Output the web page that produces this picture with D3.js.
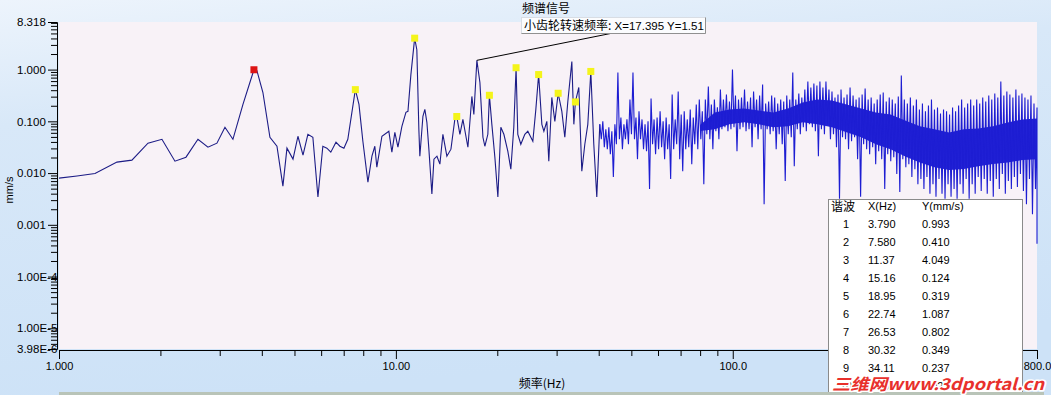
<!DOCTYPE html>
<html>
<head>
<meta charset="utf-8">
<script src="https://cdn.jsdelivr.net/npm/d3@7"></script>
<style>
  body { margin: 0; overflow: hidden; background: #d6e7f8; }
  svg text { font-family: "Liberation Sans", Arial, sans-serif; }
  .cn { font-family: "Noto Sans CJK SC", sans-serif; }
</style>
</head>
<body>
<svg id="chart"></svg>
<script>
// ---- data ----
// low band: individual spectral lines, [frequency Hz, amplitude mm/s]
const lowBand = [
  [1.000,0.0080],[1.131,0.0088],[1.279,0.0098],[1.486,0.0163],[1.646,0.0178],[1.837,0.0378],
  [2.021,0.045],[2.209,0.017],[2.382,0.0203],[2.585,0.045],[2.768,0.0316],[2.943,0.0378],
  [3.109,0.0767],[3.283,0.045],[3.516,0.212],[3.790,0.993],[3.868,0.957],[4.03,0.361],
  [4.228,0.0492],[4.436,0.033],[4.62,0.0056],[4.75,0.0303],[4.95,0.0186],[5.12,0.0515],
  [5.30,0.0222],[5.48,0.0562],[5.67,0.0492],[5.87,0.00345],[6.07,0.033],[6.24,0.0303],
  [6.41,0.0254],[6.64,0.0395],[6.82,0.033],[7.01,0.0303],[7.20,0.045],[7.58,0.410],
  [7.77,0.212],[7.98,0.0412],[8.26,0.0067],[8.49,0.0212],[8.66,0.033],[8.78,0.013],
  [9.09,0.0515],[9.53,0.0643],[9.73,0.0254],[9.93,0.0614],[10.14,0.0316],[10.42,0.0801],
  [10.71,0.149],[10.86,0.156],[11.08,0.80],[11.37,4.049],[11.54,2.42],[11.70,0.0702],
  [11.78,0.0212],[12.03,0.125],[12.19,0.170],[12.36,0.0957],[12.53,0.029],[12.79,0.00395],
  [12.97,0.0186],[13.24,0.0212],[13.51,0.0149],[13.79,0.0562],[14.17,0.0212],[14.57,0.029],
  [14.96,0.109],[15.16,0.124],[15.49,0.0562],[15.81,0.109],[16.36,0.0316],[16.81,0.303],
  [17.04,0.136],[17.395,1.51],[17.76,0.562],[18.13,0.0492],[18.37,0.033],[18.75,0.0562],
  [18.95,0.319],[19.27,0.0875],[19.67,0.0203],[20.08,0.00345],[20.49,0.0767],[20.92,0.0562],
  [21.49,0.0265],[21.94,0.0119],[22.39,0.0767],[22.74,1.087],[23.01,0.0562],[23.49,0.0361],
  [24.14,0.0562],[24.64,0.0643],[25.50,0.0412],[26.03,0.170],[26.53,0.802],[27.12,0.0875],
  [27.50,0.0643],[28.06,0.100],[28.44,0.017],[29.03,0.290],[29.64,0.100],[30.32,0.349],
  [31.09,0.156],[31.73,0.0492],[32.39,0.242],[33.29,1.43],[33.75,0.0875],[34.11,0.237],
  [34.91,0.451],[35.64,0.0109],[36.38,0.0361],[37.13,0.0875],[37.90,0.921],[38.68,0.0361],
  [39.48,0.00345]
]

// high band (40.3 - 800 Hz): per-bin upper and lower excursions, bins evenly spaced on the log axis
const denseFrom = 40.3
const denseTo = 800
const denseTop = [
  0.088,0.100,0.070,0.077,0.064,0.088,0.88,0.119,0.088,0.109,
  0.265,0.88,0.119,0.156,0.109,0.088,0.100,0.277,0.109,0.119,
  0.156,0.100,0.119,0.088,0.33,0.109,0.377,0.136,0.156,0.109,
  0.170,0.119,0.212,0.265,0.156,0.265,0.471,0.212,0.265,0.186,
  0.412,0.265,0.33,0.242,1.0,0.316,0.265,0.289,0.412,0.242,
  0.289,0.377,0.265,0.316,0.515,0.222,0.242,0.316,0.289,0.222,
  0.265,0.242,0.316,0.265,0.88,0.265,0.345,0.289,0.412,0.588,
  0.451,0.538,0.492,0.588,0.451,0.588,0.412,0.377,0.289,0.33,
  0.412,0.289,0.33,0.451,0.316,0.265,0.289,0.33,0.431,0.265,
  0.289,0.222,0.265,0.33,0.361,0.242,0.289,0.265,0.222,0.302,
  0.767,0.265,0.222,0.289,0.203,0.265,0.170,0.222,0.156,0.203,
  0.265,0.170,0.186,0.142,0.170,0.156,0.136,0.186,0.156,0.203,
  0.265,0.186,0.222,0.265,0.203,0.265,0.222,0.289,0.242,0.316,
  0.265,0.345,0.289,0.588,0.316,0.377,0.33,0.289,0.412,0.316,
  0.345,0.289,0.265,0.316,0.222,0.186
]
const denseBot = [
  0.045,0.0316,0.0289,0.0232,0.0084,0.0361,0.045,0.0289,0.045,0.0361,
  0.0562,0.045,0.0186,0.045,0.0289,0.0265,0.0049,0.0361,0.0232,0.0289,
  0.0316,0.0186,0.0289,0.0077,0.0289,0.0361,0.0186,0.0109,0.0289,0.0316,
  0.0149,0.0361,0.0289,0.045,0.0061,0.0562,0.045,0.0289,0.0642,0.045,
  0.0702,0.0767,0.0642,0.0702,0.0767,0.0265,0.0702,0.0767,0.0642,0.0702,
  0.0316,0.0767,0.045,0.0702,0.0025,0.0702,0.0562,0.0642,0.0289,0.0562,
  0.0361,0.0070,0.0562,0.0492,0.0136,0.0702,0.0562,0.0767,0.0642,0.0876,
  0.0767,0.0642,0.0212,0.0702,0.0562,0.0876,0.045,0.0562,0.0316,0.0032,
  0.0492,0.045,0.0289,0.0412,0.0492,0.0186,0.0035,0.0361,0.0289,0.0232,
  0.0316,0.0149,0.0265,0.0186,0.0049,0.0232,0.0170,0.0203,0.0096,0.0043,
  0.0186,0.0130,0.0149,0.0084,0.0119,0.0061,0.0077,0.0049,0.0084,0.0040,
  0.0061,0.0035,0.0077,0.0040,0.0032,0.0061,0.0035,0.0049,0.0032,0.0061,
  0.0040,0.0077,0.0032,0.0061,0.0040,0.0084,0.0045,0.0077,0.0040,0.0070,
  0.0035,0.0077,0.0049,0.0096,0.0040,0.0070,0.0049,0.0084,0.0054,0.0096,
  0.0045,0.0025,0.0077,0.0016,0.0049,0.00043
]

// solid core of the high band (80 - 800 Hz), upper and lower edge
const coreFrom = 80
const coreTo = 800
const coreTop = [0.085,0.149,0.170,0.178,0.162,0.149,0.178,0.231,0.264,0.253,0.212,0.178,
                 0.149,0.136,0.104,0.080,0.070,0.061,0.070,0.073,0.080,0.095,0.109,0.114]
const coreBot = [0.065,0.070,0.088,0.096,0.088,0.077,0.080,0.096,0.088,0.077,0.0615,0.049,
                 0.036,0.029,0.021,0.016,0.013,0.0115,0.012,0.0136,0.0149,0.016,0.0178,0.0186]

// harmonics table
const harmNo = [1, 2, 3, 4, 5, 6, 7, 8, 9, 10]
const harmFreq = [3.790, 7.580, 11.37, 15.16, 18.95, 22.74, 26.53, 30.32, 34.11, 37.90]
const harmAmp = [0.993, 0.410, 4.049, 0.124, 0.319, 1.087, 0.802, 0.349, 0.237, 0.921]

// marked peak
const peakName = "小齿轮转速频率"
const peakFreq = 17.395
const peakAmp = 1.51

// axes
const xTickVals = [1, 10, 100, 800]
const xTickLabels = ["1.000", "10.00", "100.0", "800.0"]
const yTickVals = [8.318, 1, 0.1, 0.01, 0.001, 1e-4, 1e-5, 3.98e-6]
const yTickLabels = ["8.318", "1.000", "0.100", "0.010", "0.001", "1.00E-4", "1.00E-5", "3.98E-6"]

const chartTitle = "频谱信号"
const xTitle = "频率(Hz)"
const yTitle = "mm/s"

// ---- layout ----
const W = 1051
const H = 395
const padL = 59, padR = 1037, padT = 22, padB = 349

let svg = d3.select('#chart').attr('width', W).attr('height', H)

let xScale = d3.scaleLog().domain([1, 800]).range([padL, padR])
let yScale = d3.scaleLog().domain([3.98e-6, 8.318]).range([padB, padT])

let defs = svg.append('defs')
let grad = defs.append('linearGradient').attr('id', 'bg')
  .attr('x1', 0).attr('y1', 0).attr('x2', 0.25).attr('y2', 1)
grad.append('stop').attr('offset', 0).attr('stop-color', '#edf4fc')
grad.append('stop').attr('offset', 0.3).attr('stop-color', '#d8e8f8')
grad.append('stop').attr('offset', 1).attr('stop-color', '#cde2f7')

defs.append('clipPath').attr('id', 'plotclip')
  .append('rect').attr('x', padL).attr('y', padT).attr('width', padR - padL + 1).attr('height', padB - padT + 1)

svg.append('rect').attr('width', W).attr('height', H).attr('fill', 'url(#bg)')
svg.append('rect').attr('x', padL).attr('y', padT).attr('width', padR - padL).attr('height', padB - padT)
  .attr('fill', '#f8f2f7')

// ---- spectrum ----
let n = denseTop.length
let ratio = denseTo / denseFrom
let denseBins = d3.range(n).map(i => denseFrom * Math.pow(ratio, i / (n - 1)))
let densePts = []
denseBins.forEach((f, i) => {
  densePts.push([f, denseTop[i]])
  let fb = Math.min(f * Math.pow(ratio, 0.5 / (n - 1)), denseTo)
  densePts.push([fb, denseBot[i]])
})

let nc = coreTop.length
let coreBins = d3.range(nc).map(i => coreFrom * Math.pow(coreTo / coreFrom, i / (nc - 1)))

let line = d3.line().x(d => xScale(d[0])).y(d => yScale(d[1]))
let coreArea = d3.area()
  .x(d => xScale(d))
  .y0((d, i) => yScale(coreBot[i]))
  .y1((d, i) => yScale(coreTop[i]))

let plot = svg.append('g').attr('clip-path', 'url(#plotclip)')
plot.append('path')
  .attr('d', coreArea(coreBins))
  .attr('fill', '#2222d6')
plot.append('path')
  .attr('d', line(lowBand.concat([densePts[0]])))
  .attr('fill', 'none').attr('stroke', '#1c1c86').attr('stroke-width', 1.1)
plot.append('path')
  .attr('d', line(densePts))
  .attr('fill', 'none').attr('stroke', '#1d1dd2').attr('stroke-width', 1.1)

// harmonic markers
plot.selectAll('rect.harm')
  .data(harmFreq)
  .enter()
  .append('rect')
  .attr('class', 'harm')
  .attr('x', d => xScale(d) - 3.5)
  .attr('y', (d, i) => yScale(harmAmp[i]) - 3.5)
  .attr('width', 7)
  .attr('height', 7)
  .attr('fill', (d, i) => i === 0 ? '#dd1515' : '#f4f41a')

// ---- axes ----
let yMinor = yScale.ticks().filter(v => Math.abs(Math.log10(v) - Math.round(Math.log10(v))) > 1e-6)
let xMinor = xScale.ticks().filter(v => xTickVals.indexOf(v) < 0)

let yAxisG = svg.append('g').attr('transform', 'translate(57,0)')
yAxisG.append('g').call(d3.axisLeft(yScale).tickValues(yMinor).tickSize(6).tickSizeOuter(0).tickFormat(''))
yAxisG.append('g').call(d3.axisLeft(yScale).tickValues(yTickVals).tickSize(9).tickSizeOuter(0)
  .tickFormat((d, i) => yTickLabels[i]))
yAxisG.selectAll('text')
  .attr('x', -40).attr('text-anchor', 'start')
  .attr('font-size', 11.5).attr('font-family', '"Liberation Sans", Arial, sans-serif').attr('fill', '#000')

let xAxisG = svg.append('g').attr('transform', 'translate(0,350)')
xAxisG.append('g').call(d3.axisBottom(xScale).tickValues(xMinor).tickSize(6).tickSizeOuter(0).tickFormat(''))
xAxisG.append('g').call(d3.axisBottom(xScale).tickValues(xTickVals).tickSize(9).tickSizeOuter(0)
  .tickFormat((d, i) => xTickLabels[i]))
xAxisG.selectAll('text')
  .attr('y', 12)
  .attr('font-size', 11).attr('font-family', '"Liberation Sans", Arial, sans-serif').attr('fill', '#000')
svg.selectAll('.domain, .tick line').attr('stroke', '#000')

// titles
svg.append('text').attr('class', 'cn').attr('x', 546).attr('y', 13)
  .attr('text-anchor', 'middle').attr('font-size', 12).text(chartTitle)
svg.append('text').attr('class', 'cn').attr('x', 542).attr('y', 388)
  .attr('text-anchor', 'middle').attr('font-size', 12).text(xTitle)
svg.append('text').attr('transform', 'translate(13,190) rotate(-90)')
  .attr('text-anchor', 'middle').attr('font-size', 11).text(yTitle)

// ---- peak annotation ----
let px = xScale(peakFreq), py = yScale(peakAmp)
svg.append('line').attr('x1', px).attr('y1', py).attr('x2', 613).attr('y2', 33)
  .attr('stroke', '#000').attr('stroke-width', 1)
svg.append('rect').attr('x', 521.5).attr('y', 17.5).attr('width', 184).attr('height', 16)
  .attr('fill', '#fbfcfe').attr('stroke', '#d8dde4')
svg.append('path').attr('d', 'M705.5,17.5V33.5H521.5').attr('fill', 'none').attr('stroke', '#909090')
let pt = svg.append('text').attr('x', 524).attr('y', 30).attr('font-size', 12)
pt.append('tspan').attr('class', 'cn').text(peakName + ':')
pt.append('tspan').attr('font-size', 11.5).text(' X=' + peakFreq + '  Y=' + peakAmp)

// ---- harmonics table ----
let tbl = svg.append('g')
tbl.append('rect').attr('x', 828.5).attr('y', 199.5).attr('width', 194).attr('height', 200)
  .attr('fill', '#fff').attr('stroke', '#8a8a8a')
tbl.append('text').attr('class', 'cn').attr('x', 831).attr('y', 211).attr('font-size', 12).text('谐波')
tbl.append('text').attr('x', 868).attr('y', 210).attr('font-size', 11).text('X(Hz)')
tbl.append('text').attr('x', 922).attr('y', 210).attr('font-size', 11).text('Y(mm/s)')

let rows = tbl.selectAll('g.row')
  .data(harmNo)
  .enter()
  .append('g')
  .attr('class', 'row')
  .attr('transform', (d, i) => 'translate(0,' + (227.5 + 18 * i) + ')')
rows.append('text').attr('x', 846).attr('text-anchor', 'middle').attr('font-size', 11).text(d => d)
rows.append('text').attr('x', 868).attr('font-size', 11).text((d, i) => harmFreq[i].toPrecision(4))
rows.append('text').attr('x', 922).attr('font-size', 11).text((d, i) => harmAmp[i].toFixed(3))

// bottom strip
svg.append('rect').attr('x', 59).attr('y', 392).attr('width', 985).attr('height', 3).attr('fill', '#b9c4b8')

// watermark
svg.append('text').attr('class', 'cn')
  .attr('x', 832).attr('y', 390)
  .attr('font-size', 16).attr('font-weight', 'bold').attr('font-style', 'italic')
  .attr('textLength', 212).attr('lengthAdjust', 'spacingAndGlyphs')
  .attr('fill', '#e8302c').attr('stroke', '#fff').attr('stroke-width', 3)
  .attr('paint-order', 'stroke').attr('stroke-linejoin', 'round')
  .text('三维网www.3dportal.cn')
</script>
</body>
</html>
